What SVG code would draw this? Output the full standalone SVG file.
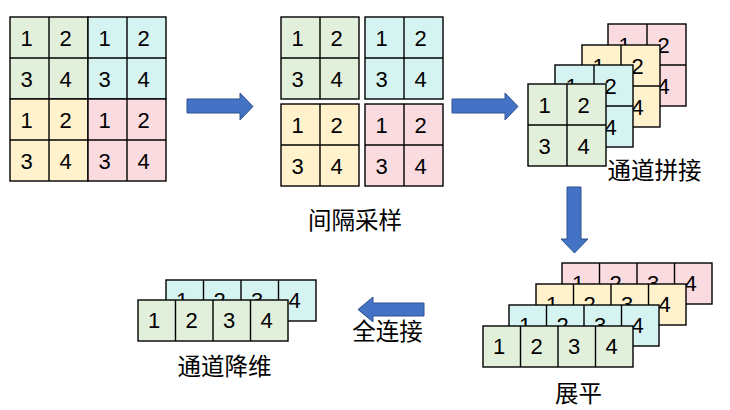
<svg xmlns="http://www.w3.org/2000/svg" xmlns:xlink="http://www.w3.org/1999/xlink" width="730" height="410" viewBox="0 0 730 410">
<style>
.cell{stroke:#000;stroke-width:1.4}
.ln{stroke:#000;stroke-width:1.4}
.num{font-family:"Liberation Sans",Arial,sans-serif;font-size:22px;fill:#000;text-anchor:middle}
.lbl{font-family:"Noto Sans CJK SC","Noto Sans",sans-serif;font-size:23.5px;fill:#000;text-anchor:middle}
.arrow{fill:#4472C4;stroke:#2F528F;stroke-width:1}
.g{fill:#E2EFDA}.c{fill:#D5F3F0}.y{fill:#FFF2CC}.p{fill:#FADBE0}
</style>
<defs>
<g id="q2">
<rect class="cell" x="0" y="0" width="78" height="82"/>
<line class="ln" x1="39" y1="0" x2="39" y2="82"/>
<line class="ln" x1="0" y1="41" x2="78" y2="41"/>
<text class="num" x="16.5" y="28.5">1</text>
<text class="num" x="55.5" y="28.5">2</text>
<text class="num" x="16.5" y="69.5">3</text>
<text class="num" x="55.5" y="69.5">4</text>
</g>
<g id="r4">
<rect class="cell" x="0" y="0" width="150" height="41"/>
<line class="ln" x1="37.5" y1="0" x2="37.5" y2="41"/>
<line class="ln" x1="75" y1="0" x2="75" y2="41"/>
<line class="ln" x1="112.5" y1="0" x2="112.5" y2="41"/>
<text class="num" x="16" y="28">1</text>
<text class="num" x="53.5" y="28">2</text>
<text class="num" x="91" y="28">3</text>
<text class="num" x="128.5" y="28">4</text>
</g>
</defs>

<g id="input-grid">
<use xlink:href="#q2" x="10" y="17" class="g"/>
<use xlink:href="#q2" x="88" y="17" class="c"/>
<use xlink:href="#q2" x="10" y="99" class="y"/>
<use xlink:href="#q2" x="88" y="99" class="p"/>
</g>

<g id="sampled">
<use xlink:href="#q2" x="281" y="17" class="g"/>
<use xlink:href="#q2" x="365" y="17" class="c"/>
<use xlink:href="#q2" x="281" y="104" class="y"/>
<use xlink:href="#q2" x="365" y="104" class="p"/>
<text class="lbl" x="355" y="229">间隔采样</text>
</g>

<g id="concat">
<use xlink:href="#q2" x="608" y="24" class="p"/>
<use xlink:href="#q2" x="582" y="45" class="y"/>
<use xlink:href="#q2" x="555" y="65" class="c"/>
<use xlink:href="#q2" x="528" y="84" class="g"/>
<text class="lbl" x="654.5" y="179">通道拼接</text>
</g>

<g id="flatten">
<use xlink:href="#r4" x="562" y="263" class="p"/>
<use xlink:href="#r4" x="536" y="284" class="y"/>
<use xlink:href="#r4" x="509" y="305" class="c"/>
<use xlink:href="#r4" x="483" y="326" class="g"/>
<text class="lbl" x="578.5" y="402">展平</text>
</g>

<g id="reduce">
<use xlink:href="#r4" x="166" y="280" class="c"/>
<use xlink:href="#r4" x="138" y="300" class="g"/>
<text class="lbl" x="224.5" y="375">通道降维</text>
</g>

<g id="fc-label">
<text class="lbl" x="387.5" y="340">全连接</text>
</g>

<g id="connectors">
<path class="arrow" d="M187,99 H240 V93 L253,106.5 L240,120 V113 H187 Z"/>
<path class="arrow" d="M452,99 H505 V93 L518,106.5 L505,120 V113 H452 Z"/>
<path class="arrow" d="M567,187 V239 H561 L574.5,253 L588,239 H581 V187 Z"/>
<path class="arrow" d="M424,303 H373 V297 L358,309.5 L373,322 V316 H424 Z"/>
</g>
</svg>
